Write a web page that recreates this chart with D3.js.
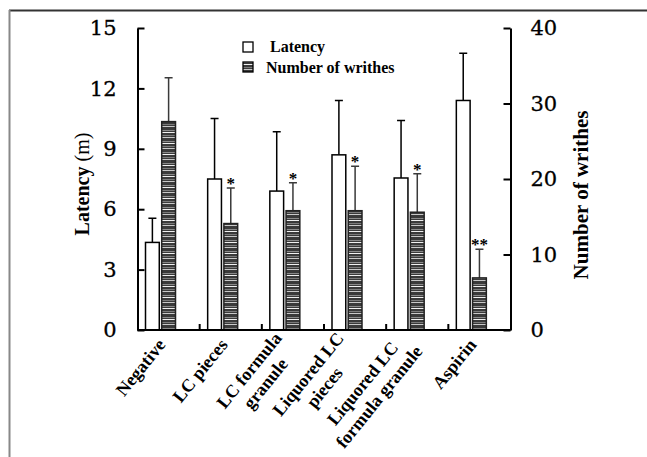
<!DOCTYPE html>
<html>
<head>
<meta charset="utf-8">
<script src="https://cdn.jsdelivr.net/npm/d3@7"></script>
<style>
	body { margin: 0; background: #fff; }
	svg { display: block; }
	.tick text { font-family: 'DejaVu Serif', serif; font-size: 21px; fill: #000; stroke: #000; stroke-width: 0.3px; }
	.bold-serif { font-family: 'Liberation Serif', 'Times New Roman', serif; font-weight: bold; fill: #000; }
</style>
</head>
<body>
<svg id="chart-svg" width="647" height="457"></svg>
<script>
// groups along the x axis, each label split into its printed lines
const CATEGORIES = ['Negative', 'LC pieces', 'LC formula granule', 'Liquored LC pieces', 'Liquored LC formula granule', 'Aspirin'];
const LABEL_LINES = [['Negative'], ['LC pieces'], ['LC formula', 'granule'], ['Liquored LC', 'pieces'], ['Liquored LC', 'formula granule'], ['Aspirin']];

// latency (min), left axis
const LATENCY = [4.35, 7.5, 6.9, 8.7, 7.55, 11.4];
const LATENCY_ERR = [1.2, 3.0, 2.95, 2.7, 2.85, 2.35];

// number of writhes, right axis
const WRITHES = [27.6, 14.1, 15.8, 15.8, 15.6, 6.9];
const WRITHES_ERR = [5.8, 4.7, 3.7, 5.9, 5.1, 3.8];
const SIGNIF = ['', '*', '*', '*', '*', '**'];

const LEFT_TICKS = [0, 3, 6, 9, 12, 15];
const RIGHT_TICKS = [0, 10, 20, 30, 40];

const svg = d3.select('#chart-svg');

// frame lines of the original figure
svg.append('line').attr('x1', 9).attr('x2', 647).attr('y1', 10.5).attr('y2', 10.5).attr('stroke', '#333').attr('stroke-width', 2);
svg.append('line').attr('x1', 9.5).attr('x2', 9.5).attr('y1', 10).attr('y2', 457).attr('stroke', '#888').attr('stroke-width', 2);

// hatched fill: dark grey with irregular light horizontal lines
const defs = svg.append('defs');
const pat = defs.append('pattern').attr('id', 'hatch').attr('patternUnits', 'userSpaceOnUse').attr('width', 20).attr('height', 11);
pat.append('rect').attr('width', 20).attr('height', 11).attr('fill', '#3a3a3a');
[[0, '#f0f0f0'], [3, '#7a7a7a'], [5, '#c8c8c8'], [9, '#8a8a8a']].forEach(([y, c]) => {
	pat.append('rect').attr('y', y).attr('width', 20).attr('height', 1).attr('fill', c);
});

const X0 = 137.5, X1 = 510.5, Y0 = 330, Y1 = 28;

const x = d3.scaleBand().domain(CATEGORIES).range([X0, X1]).paddingInner(0).paddingOuter(0);
const xSub = d3.scaleBand().domain(['latency', 'writhes']).range([8, 38]).paddingInner(0.15);
const yL = d3.scaleLinear().domain([0, 15]).range([Y0, Y1]);
const yR = d3.scaleLinear().domain([0, 40]).range([Y0, Y1]);

// bars
const groups = svg.append('g').selectAll('g').data(CATEGORIES).enter().append('g')
	.attr('transform', (d) => 'translate(' + x(d) + ',0)');

// error bars first so the bars sit on top of the stem
groups.append('path')
	.attr('d', (d, i) => {
		const cx = xSub('latency') + xSub.bandwidth() / 2;
		const top = yL(LATENCY[i] + LATENCY_ERR[i]);
		return 'M' + cx + ',' + yL(LATENCY[i]) + 'V' + top + 'M' + (cx - 4) + ',' + top + 'H' + (cx + 4);
	})
	.attr('stroke', '#000').attr('stroke-width', 1.5).attr('fill', 'none');
groups.append('path')
	.attr('d', (d, i) => {
		const cx = xSub('writhes') + xSub.bandwidth() / 2;
		const top = yR(WRITHES[i] + WRITHES_ERR[i]);
		return 'M' + cx + ',' + yR(WRITHES[i]) + 'V' + top + 'M' + (cx - 4) + ',' + top + 'H' + (cx + 4);
	})
	.attr('stroke', '#3a3a3a').attr('stroke-width', 1.5).attr('fill', 'none');

groups.append('rect')
	.attr('x', xSub('latency'))
	.attr('y', (d, i) => yL(LATENCY[i]))
	.attr('width', xSub.bandwidth())
	.attr('height', (d, i) => Y0 - yL(LATENCY[i]))
	.attr('fill', '#fff').attr('stroke', '#000').attr('stroke-width', 1.5);
groups.append('rect')
	.attr('x', xSub('writhes'))
	.attr('y', (d, i) => yR(WRITHES[i]))
	.attr('width', xSub.bandwidth())
	.attr('height', (d, i) => Y0 - yR(WRITHES[i]))
	.attr('fill', 'url(#hatch)').attr('stroke', '#222').attr('stroke-width', 1.5);

// significance marks
groups.append('text')
	.attr('class', 'bold-serif')
	.attr('x', xSub('writhes') + xSub.bandwidth() / 2)
	.attr('y', (d, i) => yR(WRITHES[i] + WRITHES_ERR[i]) + 1)
	.attr('text-anchor', 'middle')
	.style('font-size', '17px')
	.text((d, i) => SIGNIF[i]);

// x axis baseline with small inner group separators
svg.append('line').attr('x1', X0).attr('x2', X1).attr('y1', Y0).attr('y2', Y0).attr('stroke', '#000').attr('stroke-width', 2);
svg.append('g').selectAll('line').data(CATEGORIES.slice(1)).enter().append('line')
	.attr('x1', (d) => x(d)).attr('x2', (d) => x(d))
	.attr('y1', Y0).attr('y2', Y0 - 6)
	.attr('stroke', '#000').attr('stroke-width', 2);

// y axes, ticks pointing inwards
const leftAxis = d3.axisLeft(yL).tickValues(LEFT_TICKS).tickSizeInner(-7).tickSizeOuter(0).tickPadding(21);
const rightAxis = d3.axisRight(yR).tickValues(RIGHT_TICKS).tickSizeInner(-7).tickSizeOuter(0).tickPadding(20);
[svg.append('g').attr('transform', 'translate(' + X0 + ',0)').call(leftAxis),
 svg.append('g').attr('transform', 'translate(' + X1 + ',0)').call(rightAxis)].forEach((g) => {
	g.attr('font-family', null).attr('font-size', null);
	g.select('.domain').attr('stroke-width', 2);
	g.selectAll('.tick line').attr('stroke-width', 2);
});

// rotated category labels, multi-line blocks centred like the original
const labelG = svg.append('g');
LABEL_LINES.forEach((lines, i) => {
	const lh = 21;
	const g = labelG.append('g')
		.attr('transform', 'translate(' + (x(CATEGORIES[i]) + 25) + ',' + (Y0 + 12) + ') rotate(-51)');
	const texts = lines.map((ln, j) => g.append('text')
		.attr('class', 'bold-serif')
		.style('font-size', '18px')
		.attr('text-anchor', 'end')
		.attr('y', (j - (lines.length - 1) / 2) * lh + 5)
		.text(ln));
	const lens = texts.map((t) => t.node().getComputedTextLength());
	const maxLen = d3.max(lens);
	texts.forEach((t, j) => t.attr('x', -(maxLen - lens[j]) / 2));
});

// axis titles
const latTitle = svg.append('text').attr('class', 'bold-serif')
	.attr('transform', 'translate(89,184) rotate(-90)')
	.attr('text-anchor', 'middle')
	.style('font-size', '20px');
latTitle.append('tspan').text('Latency ');
latTitle.append('tspan').style('font-weight', 'normal').text('(m)');

svg.append('text').attr('class', 'bold-serif')
	.attr('transform', 'translate(588,195) rotate(-90)')
	.attr('text-anchor', 'middle')
	.style('font-size', '21px')
	.text('Number of writhes');

// legend
const legend = svg.append('g').attr('transform', 'translate(243,42)');
const legendItems = [['Latency', '#fff', 27, 10], ['Number of writhes', 'url(#hatch)', 23, 31]];
legendItems.forEach(([name, fill, tx, ty], i) => {
	legend.append('rect').attr('x', 0).attr('y', i * 20).attr('width', 10).attr('height', 10)
		.attr('fill', fill).attr('stroke', '#000').attr('stroke-width', 1.3);
	legend.append('text').attr('class', 'bold-serif').attr('x', tx).attr('y', ty)
		.style('font-size', '16px').text(name);
});
</script>
</body>
</html>
